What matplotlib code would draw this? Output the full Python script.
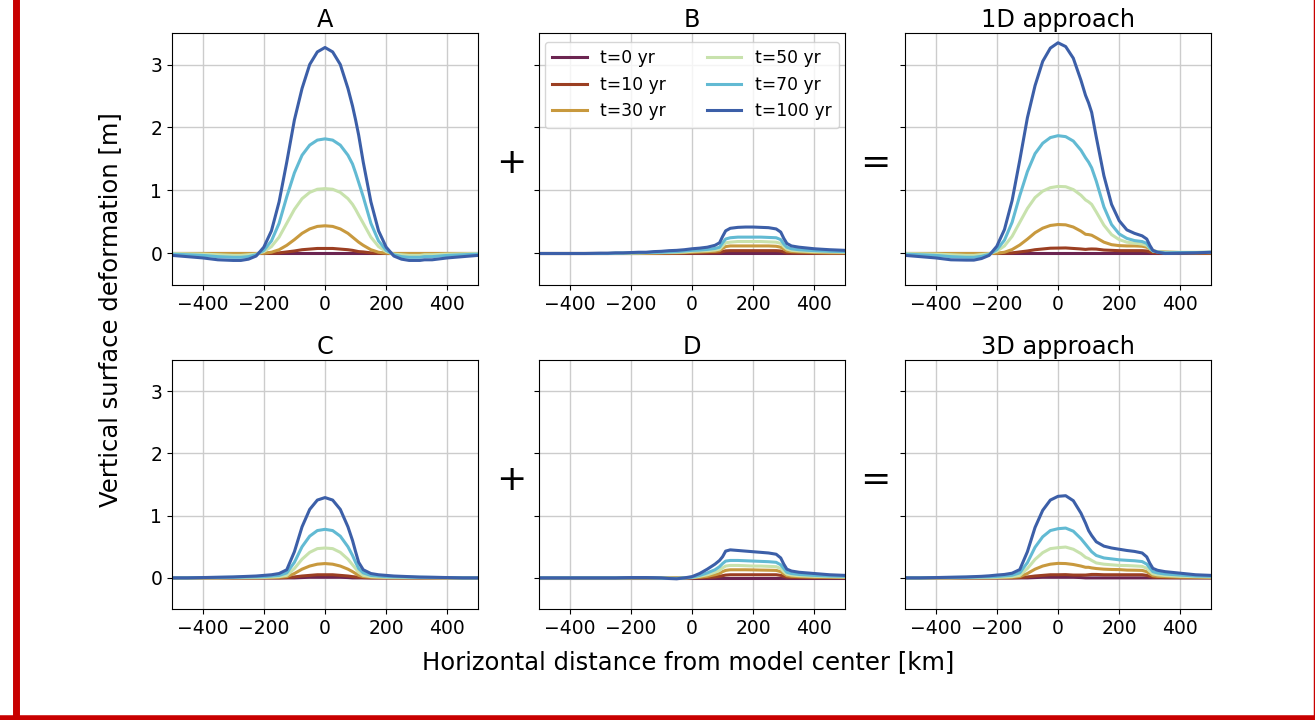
import numpy as np
import matplotlib
matplotlib.use("Agg")
import matplotlib.pyplot as plt
from matplotlib.lines import Line2D

# ---- data ----
x_km = [-500, -450, -400, -350, -300, -275, -250, -225, -200, -175, -150, -125,
        -100, -75, -50, -25, 0, 25, 50, 75, 90, 100, 110, 125, 150, 175, 200,
        225, 250, 275, 290, 300, 310, 325, 350, 400, 450, 500]

labels = ["t=0 yr", "t=10 yr", "t=30 yr", "t=50 yr", "t=70 yr", "t=100 yr"]
colors = ["#6c2551", "#9b3f22", "#c8993e", "#c8e2ad", "#62bad3", "#3c5fa8"]

# panel A : 1D load, centered
a_t0 = [0.0] * 38
a_t10 = [0, 0, 0, 0, 0, 0, 0, 0, 0, 0.005, 0.01, 0.025, 0.04, 0.06, 0.07, 0.08, 0.08,
         0.08, 0.07, 0.06, 0.05, 0.04, 0.03, 0.025, 0.01, 0.005, 0, 0, 0, 0, 0, 0, 0, 0, 0, 0, 0, 0]
a_t30 = [0, 0, 0, 0, 0, 0, 0, 0, 0.005, 0.02, 0.06, 0.13, 0.22, 0.32, 0.39, 0.43, 0.44,
         0.43, 0.39, 0.32, 0.26, 0.22, 0.18, 0.13, 0.06, 0.02, 0.005, 0, 0, 0, 0, 0, 0, 0, 0, 0, 0, 0]
a_t50 = [0.0, -0.005, -0.01, -0.02, -0.03, -0.03, -0.02, -0.01, 0.03, 0.11, 0.26, 0.48, 0.7,
         0.87, 0.97, 1.02, 1.03, 1.02, 0.97, 0.87, 0.78, 0.7, 0.61, 0.48, 0.26, 0.11, 0.03,
         -0.01, -0.02, -0.03, -0.03, -0.03, -0.03, -0.02, -0.02, -0.01, -0.005, 0.0]
a_t70 = [-0.01, -0.02, -0.03, -0.05, -0.06, -0.06, -0.05, -0.02, 0.05, 0.2, 0.48, 0.9, 1.28,
         1.56, 1.72, 1.8, 1.82, 1.8, 1.72, 1.56, 1.42, 1.28, 1.13, 0.9, 0.48, 0.2, 0.05,
         -0.02, -0.05, -0.06, -0.06, -0.06, -0.06, -0.05, -0.05, -0.03, -0.02, -0.01]
a_t100 = [-0.03, -0.05, -0.07, -0.10, -0.11, -0.11, -0.09, -0.04, 0.10, 0.36, 0.82, 1.45, 2.12,
          2.62, 3.0, 3.2, 3.27, 3.2, 3.0, 2.62, 2.34, 2.12, 1.88, 1.45, 0.82, 0.36, 0.10,
          -0.04, -0.09, -0.11, -0.11, -0.11, -0.11, -0.10, -0.10, -0.07, -0.05, -0.03]

# panel B : 1D contribution of the off-center block
b_t0 = [0.0] * 38
b_t10 = [0, 0, 0, 0, 0, 0, 0, 0, 0, 0, 0, 0, 0, 0, 0.002, 0.004, 0.006, 0.008, 0.01, 0.012,
         0.015, 0.03, 0.042, 0.045, 0.045, 0.045, 0.045, 0.045, 0.045, 0.045, 0.04, 0.025,
         0.01, 0.008, 0.006, 0.004, 0.003, 0.002]
b_t30 = [0, 0, 0, 0, 0, 0, 0, 0, 0, 0, 0.003, 0.005, 0.008, 0.01, 0.012, 0.015, 0.02, 0.025,
         0.03, 0.035, 0.045, 0.08, 0.11, 0.12, 0.12, 0.12, 0.12, 0.12, 0.12, 0.115, 0.1, 0.07,
         0.04, 0.03, 0.025, 0.015, 0.01, 0.01]
b_t50 = [0, 0, 0, 0, 0, 0, 0.003, 0.005, 0.007, 0.01, 0.012, 0.014, 0.015, 0.018, 0.02, 0.025,
         0.035, 0.04, 0.045, 0.055, 0.07, 0.12, 0.17, 0.18, 0.19, 0.19, 0.19, 0.19, 0.185,
         0.18, 0.16, 0.11, 0.07, 0.05, 0.04, 0.03, 0.025, 0.02]
b_t70 = [0, 0, 0, 0, 0, 0, 0.005, 0.007, 0.01, 0.012, 0.015, 0.018, 0.02, 0.025, 0.03, 0.04,
         0.05, 0.055, 0.065, 0.08, 0.1, 0.17, 0.23, 0.25, 0.26, 0.26, 0.26, 0.26, 0.255, 0.25,
         0.22, 0.15, 0.1, 0.075, 0.06, 0.045, 0.035, 0.03]
b_t100 = [0.0, 0.0, 0.0, 0.0, 0.005, 0.005, 0.01, 0.01, 0.015, 0.02, 0.02, 0.03, 0.035, 0.045,
          0.05, 0.06, 0.075, 0.085, 0.1, 0.13, 0.17, 0.27, 0.36, 0.4, 0.415, 0.42, 0.42,
          0.415, 0.41, 0.39, 0.34, 0.24, 0.16, 0.12, 0.1, 0.075, 0.06, 0.05]

# panel C : 3D load, centered
c_t0 = [0, 0, 0, 0, 0, 0, 0, 0, 0, 0, 0, 0, 0, 0.005, 0.01, 0.01, 0.01, 0.01, 0.01, 0.005,
        0, 0, 0, 0, 0, 0, 0, 0, 0, 0, 0, 0, 0, 0, 0, 0, 0, 0]
c_t10 = [0, 0, 0, 0, 0, 0, 0, 0, 0, 0, 0, 0.005, 0.015, 0.03, 0.04, 0.05, 0.05, 0.05, 0.04,
         0.03, 0.02, 0.015, 0.01, 0.005, 0, 0, 0, 0, 0, 0, 0, 0, 0, 0, 0, 0, 0, 0]
c_t30 = [0, 0, 0, 0, 0, 0, 0, 0, 0.005, 0.005, 0.01, 0.02, 0.07, 0.14, 0.19, 0.22, 0.23, 0.22,
         0.19, 0.14, 0.1, 0.07, 0.04, 0.02, 0.01, 0.005, 0.005, 0, 0, 0, 0, 0, 0, 0, 0, 0, 0, 0]
c_t50 = [0, 0, 0, 0, 0.005, 0.005, 0.007, 0.008, 0.01, 0.015, 0.02, 0.04, 0.15, 0.3, 0.41,
         0.47, 0.48, 0.47, 0.41, 0.3, 0.21, 0.15, 0.09, 0.04, 0.02, 0.015, 0.01, 0.008, 0.007,
         0.005, 0.005, 0.005, 0.005, 0.004, 0.003, 0, 0, 0]
c_t70 = [0, 0, 0.005, 0.007, 0.01, 0.012, 0.015, 0.017, 0.02, 0.03, 0.04, 0.08, 0.25, 0.5,
         0.67, 0.76, 0.78, 0.76, 0.67, 0.5, 0.36, 0.25, 0.15, 0.08, 0.04, 0.03, 0.02, 0.017,
         0.015, 0.012, 0.011, 0.01, 0.01, 0.009, 0.007, 0.005, 0, 0]
c_t100 = [0.0, 0.0, 0.005, 0.01, 0.015, 0.02, 0.025, 0.03, 0.04, 0.05, 0.07, 0.13, 0.42, 0.82,
          1.1, 1.25, 1.29, 1.25, 1.1, 0.82, 0.6, 0.42, 0.25, 0.13, 0.07, 0.05, 0.04, 0.03,
          0.025, 0.02, 0.017, 0.015, 0.013, 0.012, 0.01, 0.005, 0.0, 0.0]

# panel D : 3D contribution of the off-center block
d_t0 = [0.0] * 38
d_t10 = [0, 0, 0, 0, 0, 0, 0, 0, 0, 0, 0, 0, 0, 0, 0, 0, 0, 0.002, 0.005, 0.015, 0.025,
         0.035, 0.045, 0.05, 0.05, 0.05, 0.05, 0.05, 0.05, 0.05, 0.04, 0.025, 0.012, 0.008,
         0.005, 0.003, 0.002, 0.001]
d_t30 = [0, 0, 0, 0, 0, 0, 0, 0, 0, 0, 0, 0, 0, 0, 0, 0, 0.003, 0.01, 0.025, 0.05, 0.07,
         0.1, 0.12, 0.13, 0.13, 0.13, 0.128, 0.125, 0.123, 0.12, 0.1, 0.065, 0.035, 0.025,
         0.02, 0.012, 0.01, 0.008]
d_t50 = [0, 0, 0, 0, 0, 0, 0, 0, 0, 0, 0, 0, 0, -0.003, -0.005, 0, 0.005, 0.025, 0.05, 0.09,
         0.12, 0.16, 0.19, 0.2, 0.2, 0.195, 0.19, 0.19, 0.185, 0.18, 0.15, 0.1, 0.06, 0.045,
         0.035, 0.025, 0.02, 0.015]
d_t70 = [0, 0, 0, 0, 0, 0, 0, 0, 0.003, 0.003, 0.003, 0, -0.005, -0.008, -0.01, 0, 0.01, 0.04,
         0.08, 0.13, 0.18, 0.23, 0.27, 0.28, 0.28, 0.275, 0.27, 0.265, 0.26, 0.25, 0.21, 0.15,
         0.09, 0.07, 0.055, 0.04, 0.03, 0.025]
d_t100 = [0.0, 0.0, 0.0, 0.0, 0.0, 0.0, 0.0, 0.003, 0.005, 0.005, 0.005, 0.003, 0.0, -0.01,
          -0.015, 0.0, 0.02, 0.07, 0.14, 0.22, 0.28, 0.34, 0.43, 0.45, 0.44, 0.43, 0.42, 0.41,
          0.40, 0.38, 0.32, 0.22, 0.14, 0.11, 0.09, 0.07, 0.05, 0.04]

panel_a = [a_t0, a_t10, a_t30, a_t50, a_t70, a_t100]
panel_b = [b_t0, b_t10, b_t30, b_t50, b_t70, b_t100]
panel_c = [c_t0, c_t10, c_t30, c_t50, c_t70, c_t100]
panel_d = [d_t0, d_t10, d_t30, d_t50, d_t70, d_t100]

# right column is the sum of the two panels on its left (A + B, C + D)
panel_1d = [np.array(p) + np.array(q) for p, q in zip(panel_a, panel_b)]
panel_3d = [np.array(p) + np.array(q) for p, q in zip(panel_c, panel_d)]

# ---- figure ----
W, H = 1315, 720
fig = plt.figure(figsize=(W / 100, H / 100), dpi=100)

lefts = [172, 539, 905]
rows = [(33, 285), (360, 609)]
width = 306

panels = [[panel_a, panel_b, panel_1d], [panel_c, panel_d, panel_3d]]
titles = [["A", "B", "1D approach"], ["C", "D", "3D approach"]]

axes = []
for r, (top, bot) in enumerate(rows):
    for c, left in enumerate(lefts):
        ax = fig.add_axes([left / W, 1 - bot / H, width / W, (bot - top) / H])
        for series, col, lab in zip(panels[r][c], colors, labels):
            ax.plot(x_km, series, color=col, lw=2.2, label=lab,
                    solid_joinstyle="round")
        ax.set_xlim(-500, 500)
        ax.set_ylim(-0.5, 3.5)
        ax.set_xticks([-400, -200, 0, 200, 400])
        ax.set_yticks([0, 1, 2, 3])
        ax.grid(True, color="#cccccc", lw=1)
        ax.set_axisbelow(True)
        ax.tick_params(labelsize=13.5)
        if c > 0:
            ax.tick_params(labelleft=False)
        ax.set_title(titles[r][c], fontsize=17.3, pad=4)
        axes.append(ax)

axes[1].legend(loc="upper center", ncol=2, fontsize=12.3, columnspacing=2.4,
               handlelength=2.0, borderpad=0.45)

# operators between the panels
for yy in (163, 480):
    fig.text(511 / W, 1 - yy / H, "+", fontsize=26, ha="center", va="center")
    fig.text(875 / W, 1 - yy / H, "=", fontsize=26, ha="center", va="center")

fig.text(110 / W, 1 - 310 / H, "Vertical surface deformation [m]", rotation=90,
         fontsize=17.5, ha="center", va="center")
fig.text(688 / W, 1 - 662 / H, "Horizontal distance from model center [km]",
         fontsize=17.5, ha="center", va="center")

# red frame of the screenshot
red = "#c80000"
fig.add_artist(Line2D([15.5 / W, 15.5 / W], [0, 1], color=red, lw=5, transform=fig.transFigure))
fig.add_artist(Line2D([0, 1], [2.5 / H, 2.5 / H], color=red, lw=4, transform=fig.transFigure))
fig.add_artist(Line2D([1314.5 / W, 1314.5 / W], [0, 1], color=red, lw=2.5, transform=fig.transFigure))

fig.savefig("out.png", dpi=100)
